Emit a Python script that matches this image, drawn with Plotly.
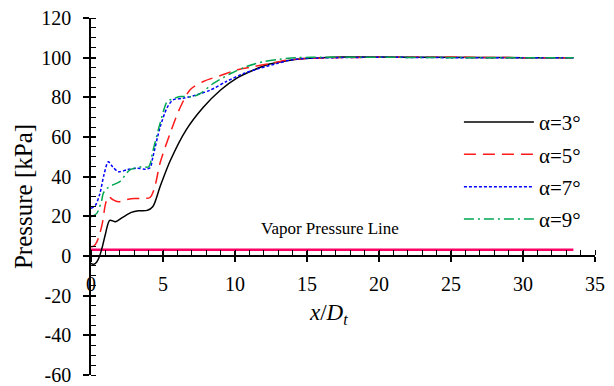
import plotly.graph_objects as go

# ---- data ----
x3 = [0, 0.2, 0.4, 0.6, 0.8, 1.0, 1.3, 1.7, 2.2, 2.8, 3.3, 3.9, 4.3, 4.8, 5.5, 6.6, 7.8, 9.0, 10.1, 11.3, 12.4, 13.6, 14.7, 16, 17.5, 20, 25, 30, 33.5]
p3 = [-3.7, -4.2, -3, 0, 5, 11, 18, 17.3, 19.5, 22, 22.8, 23, 25, 35, 48, 63.5, 75, 83.7, 89.6, 93.8, 96.8, 98.5, 99.5, 100, 100.3, 100.3, 100.2, 100, 100]

x5 = [0, 0.2, 0.4, 0.6, 0.8, 1.0, 1.2, 1.5, 1.9, 2.4, 3.0, 3.6, 4.1, 4.4, 4.8, 5.5, 6.2, 6.9, 7.8, 9.0, 10.1, 11.3, 12.4, 13.6, 15, 17, 20, 25, 30, 33.5]
p5 = [4.7, 5, 7, 11, 17, 26, 30, 28.5, 27.3, 28.3, 29, 29, 29.5, 34, 47, 62, 75, 84, 88, 91, 93.8, 95.5, 97, 98.8, 99.6, 100, 100.2, 100.2, 100, 100]

x7 = [0, 0.3, 0.6, 0.9, 1.2, 1.5, 1.9, 2.5, 3.2, 3.8, 4.1, 4.3, 4.8, 5.3, 5.7, 6.4, 7.3, 8.3, 9.4, 10.6, 11.7, 12.9, 14.0, 15.5, 17, 20, 25, 30, 33.5]
p7 = [24, 25.5, 31, 41, 47.5, 45, 42.5, 43.5, 44.3, 43.8, 44.5, 50, 65, 75, 78.7, 79.5, 81.2, 83.7, 88, 92, 94.6, 97, 99, 99.8, 100, 100.2, 100, 100, 100]

x9 = [0, 0.4, 0.74, 0.85, 1.1, 1.5, 2.0, 2.7, 3.5, 4.0, 4.3, 4.8, 5.3, 5.6, 6.2, 7.1, 7.6, 8.5, 9.7, 10.8, 12.0, 13.1, 14.3, 16, 20, 25, 30, 33.5]
p9 = [19.8, 21.5, 28, 31.6, 34, 35.8, 37.5, 43.4, 45, 45, 53, 67, 78, 79, 80.4, 80.4, 82, 87, 92, 95.5, 98, 99.2, 100, 100.2, 100.2, 100, 100, 100]

vapor_x = [0, 33.5]
vapor_p = [3.2, 3.2]

y_tickvals = [-60, -40, -20, 0, 20, 40, 60, 80, 100, 120]
y_ticktext = ["-60", "-40", "-20", "0", "20", "40", "60", "80", "100", "120"]
x_tickvals = [0, 5, 10, 15, 20, 25, 30, 35]
x_ticktext = ["0", "5", "10", "15", "20", "25", "30", "35"]

series = [
    ("α=3°", x3, p3, "#000000", "solid"),
    ("α=5°", x5, p5, "#FF1A1A", "12px,7px"),
    ("α=7°", x7, p7, "#0000FF", "3px,2px"),
    ("α=9°", x9, p9, "#00A651", "10px,4px,2px,4px"),
]

FONT = "Liberation Serif"

fig = go.Figure()
fig.add_trace(go.Scatter(x=vapor_x, y=vapor_p, mode="lines", showlegend=False,
                         line=dict(color="#FF0066", width=2.5)))
for i, (name, xs, ys, c, d) in enumerate(series):
    fig.add_trace(go.Scatter(x=xs, y=ys, mode="lines", name=name, legendgroup=str(i),
                             line=dict(color=c, width=1.5, dash=d, shape="spline", smoothing=0.8)))
# invisible carrier trace so the overlay axes (crossing major ticks) are drawn
fig.add_trace(go.Scatter(x=[None], y=[None], xaxis="x2", yaxis="y2", mode="lines",
                         showlegend=False, hoverinfo="skip"))

fig.add_annotation(x=16.6, y=14.1, xref="x", yref="y", text="Vapor Pressure Line",
                   showarrow=False, font=dict(family=FONT, size=17, color="black"))
fig.add_annotation(x=16.5, y=-29, xref="x", yref="y", text="<i>x</i>/<i>D<sub>t</sub></i>",
                   showarrow=False, font=dict(family=FONT, size=23, color="black"))

fig.update_layout(
    width=614, height=386,
    margin=dict(l=91, r=19, t=18, b=11, autoexpand=False),
    paper_bgcolor="white", plot_bgcolor="white",
    font=dict(family=FONT, size=20, color="black"),
    showlegend=True,
    legend=dict(x=0.73, y=0.765, xanchor="left", yanchor="top", bgcolor="rgba(0,0,0,0)",
                font=dict(family=FONT, size=21, color="black"), tracegroupgap=2, itemwidth=70),
    xaxis=dict(range=[0, 35], anchor="free", position=1/3, showgrid=False, zeroline=False,
               automargin=False,
               showline=True, linecolor="black", linewidth=1.5,
               ticks="outside", ticklen=5, tickwidth=1.5, tickcolor="black",
               tickmode="array", tickvals=x_tickvals, ticktext=x_ticktext,
               ticklabelstandoff=5,
               minor=dict(dtick=1, tick0=0, ticks="inside", ticklen=5, tickcolor="black", tickwidth=1),
               tickfont=dict(family=FONT, size=20, color="black")),
    xaxis2=dict(range=[0, 35], overlaying="x", anchor="free", position=1/3, showgrid=False,
                zeroline=False, showline=False, ticks="inside", ticklen=5, tickwidth=1.5,
                tickcolor="black", tickmode="array", tickvals=x_tickvals,
                showticklabels=False, automargin=False),
    yaxis=dict(range=[-60, 120], anchor="x", showgrid=False, zeroline=False,
               automargin=False,
               showline=True, linecolor="black", linewidth=1.5,
               ticks="outside", ticklen=6, tickwidth=1.5, tickcolor="black",
               tickmode="array", tickvals=y_tickvals, ticktext=y_ticktext,
               ticklabelstandoff=8,
               minor=dict(dtick=5, tick0=0, ticks="inside", ticklen=5, tickcolor="black", tickwidth=1),
               tickfont=dict(family=FONT, size=20, color="black"),
               title=dict(text="Pressure [kPa]", font=dict(family=FONT, size=25, color="black"),
                          standoff=2)),
    yaxis2=dict(range=[-60, 120], overlaying="y", anchor="x2", showgrid=False, zeroline=False,
                showline=False, ticks="inside", ticklen=5, tickwidth=1.5, tickcolor="black",
                tickmode="array", tickvals=y_tickvals, showticklabels=False, automargin=False),
)

fig.write_html("out.html")
